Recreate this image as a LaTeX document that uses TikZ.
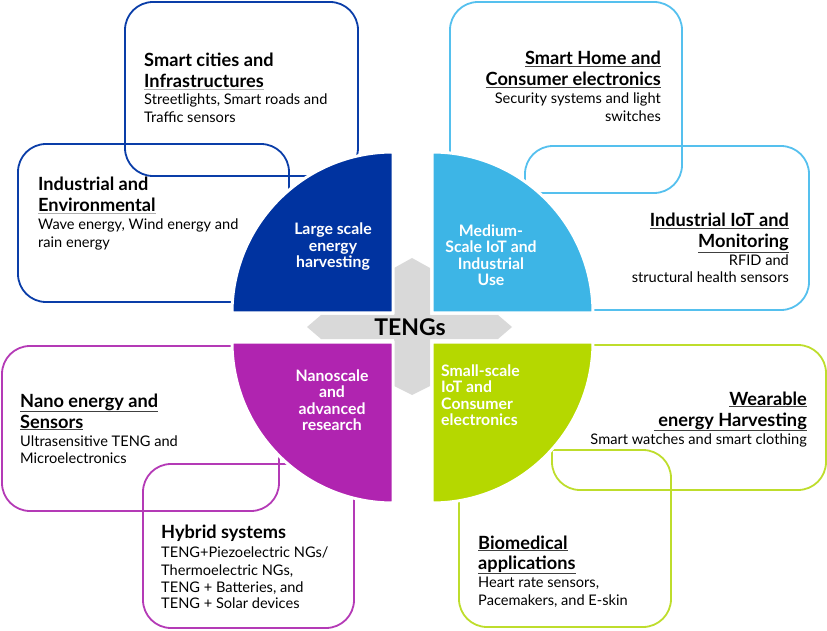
\documentclass[tikz,border=0pt]{standalone}
\usepackage{fontspec}
\setmainfont{Lato}
\usepackage{xcolor}
\definecolor{dkblue}{HTML}{0033A0}
\definecolor{dkblueln}{HTML}{0A3DA8}
\definecolor{ltblue}{HTML}{3DB5E6}
\definecolor{ltblueln}{HTML}{55C0EE}
\definecolor{purp}{HTML}{B024B0}
\definecolor{purpln}{HTML}{B43AB6}
\definecolor{lime}{HTML}{B5D800}
\definecolor{limeln}{HTML}{BEDD2C}
\definecolor{crossgray}{HTML}{D9D9D9}
\definecolor{ulgray}{HTML}{404040}
\definecolor{ullight}{HTML}{B0B0B0}
\newcommand\hul[1]{{\color{ulgray}\underline{\color{black}#1}}}
\newcommand\lul[1]{{\color{ullight}\underline{\color{black}#1}}}
\begin{document}
\begin{tikzpicture}[x=1pt,y=1pt,
  box/.style={draw, line width=1.8pt, rounded corners=28pt},
  quad/.style={draw=white, line width=3pt},
  headL/.style={anchor=base west, inner sep=0pt, font=\fontsize{18.2}{21}\selectfont\bfseries},
  headR/.style={anchor=base east, inner sep=0pt, font=\fontsize{18.2}{21}\selectfont\bfseries},
  bodyL/.style={anchor=base west, inner sep=0pt, font=\fontsize{14.6}{18}\selectfont},
  bodyR/.style={anchor=base east, inner sep=0pt, font=\fontsize{14.6}{18}\selectfont},
  qtext/.style={text=white, font=\fontsize{15.8}{16.5}\selectfont\bfseries, inner sep=0pt}
]
\useasboundingbox (0,0) rectangle (827,630);

% outline boxes
\draw[box, dkblueln] (125,454) rectangle (358,628);
\draw[box, dkblueln] (18,328) rectangle (289,486);
\draw[box, ltblueln] (450,437) rectangle (682,628);
\draw[box, ltblueln] (525,320) rectangle (809,484);
\draw[box, purpln] (2,119) rectangle (279,284);
\draw[box, purpln] (143,2) rectangle (354,166);
\draw[box, limeln] (552,140) rectangle (826,285);
\draw[box, limeln] (459,3) rectangle (671,180);

% gray cross
\fill[crossgray] (307,303) -- (321,315) -- (498,315) -- (512,303) -- (498,291) -- (321,291) -- cycle;
\fill[crossgray] (412,372) -- (430,362) -- (430,244) -- (412,235) -- (394,244) -- (394,362) -- cycle;

% quadrants
\filldraw[quad, fill=dkblue] (393,317) -- (232,317) arc[start angle=180, end angle=90, radius=161] -- cycle;
\filldraw[quad, fill=ltblue] (432,317) -- (432,478) arc[start angle=90, end angle=0, radius=161] -- cycle;
\filldraw[quad, fill=purp] (393,288) -- (232,288) arc[start angle=180, end angle=270, radius=161] -- cycle;
\filldraw[quad, fill=lime] (432,288) -- (593,288) arc[start angle=0, end angle=-90, radius=161] -- cycle;

% center label
\node[font=\fontsize{23}{26}\selectfont\bfseries, inner sep=0pt] (teng) at (410,303) {TENGs};

% quadrant labels
\node[qtext, align=center] (q1) at (333,383) {Large scale\\energy\\harvesting};
\node[qtext, align=center] (q2) at (491,375) {Medium-\\Scale IoT and\\Industrial\\Use};
\node[qtext, align=center] (q3) at (332,230) {Nanoscale\\and\\advanced\\research};
\node[qtext, align=left, anchor=west] (q4) at (441,235) {Small-scale\\IoT and\\Consumer\\electronics};

% box 1
\node[headL] (a1) at (144,563) {Smart cities and};
\node[headL] (a2) at (144,542) {\lul{Infrastructures}};
\node[bodyL] (a3) at (144,525) {Streetlights, Smart roads and};
\node[bodyL] (a4) at (144,507) {Traffic sensors};
% box 2
\node[headL] (b1) at (38,439) {Industrial and};
\node[headL] (b2) at (38,418) {\lul{Environmental}};
\node[bodyL] (b3) at (38,400) {Wave energy, Wind energy and};
\node[bodyL] (b4) at (38,382) {rain energy};
% box 3
\node[headR] (c1) at (661,565) {\hul{Smart Home and}};
\node[headR] (c2) at (661,544) {\hul{Consumer electronics}};
\node[bodyR] (c3) at (661,526) {Security systems and light};
\node[bodyR] (c4) at (661,508) {switches};
% box 4
\node[headR] (d1) at (789,403) {\hul{Industrial IoT and}};
\node[headR] (d2) at (789,382) {\hul{Monitoring}};
\node[bodyR] (d3) at (789,364) {RFID and};
\node[bodyR] (d4) at (789,347) {structural health sensors};
% box 5
\node[headL] (e1) at (20,223) {\hul{Nano energy and}};
\node[headL] (e2) at (20,202) {\hul{Sensors}};
\node[bodyL] (e3) at (20,184) {Ultrasensitive TENG and};
\node[bodyL] (e4) at (20,167) {Microelectronics};
% box 6
\node[headL] (f1) at (161,92) {Hybrid systems};
\node[bodyL] (f2) at (161,73) {TENG+Piezoelectric NGs/};
\node[bodyL] (f3) at (161,55) {Thermoelectric NGs,};
\node[bodyL] (f4) at (161,38) {TENG + Batteries, and};
\node[bodyL] (f5) at (161,22) {TENG + Solar devices};
% box 7
\node[headR] (g1) at (807,225) {\hul{Wearable}};
\node[headR] (g2) at (807,204) {\hul{\ energy Harvesting}};
\node[bodyR] (g3) at (807,186) {Smart watches and smart clothing};
% box 8
\node[headL] (h1) at (478,81) {\hul{Biomedical}};
\node[headL] (h2) at (478,61) {\hul{applications}};
\node[bodyL] (h3) at (478,43) {Heart rate sensors,};
\node[bodyL] (h4) at (478,25) {Pacemakers, and E-skin};
\end{tikzpicture}
\end{document}
